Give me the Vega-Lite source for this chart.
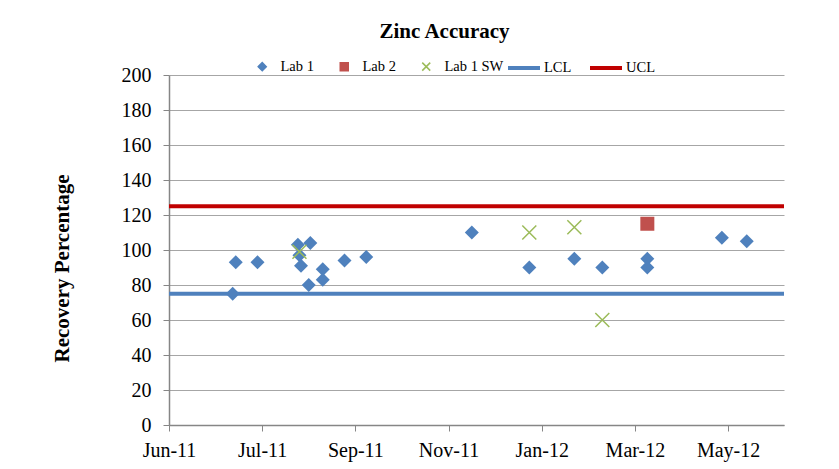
{
  "$schema": "https://vega.github.io/schema/vega-lite/v6.json",
  "width": 615,
  "height": 350,
  "autosize": {"type": "none"},
  "padding": {"left": 169, "top": 75, "right": 55, "bottom": 44},
  "background": "white",
  "title": {
    "text": "Zinc Accuracy",
    "font": "Liberation Serif",
    "fontSize": 21,
    "fontWeight": "bold",
    "color": "black",
    "anchor": "middle",
    "frame": "group",
    "dx": -32,
    "offset": 8
  },
  "data": {
    "values": [
      {"date": "2011-06-01", "value": 75, "series": "LCL"},
      {"date": "2012-07-01", "value": 75, "series": "LCL"},
      {"date": "2011-06-01", "value": 125, "series": "UCL"},
      {"date": "2012-07-01", "value": 125, "series": "UCL"},
      {"date": "2011-07-12", "value": 75, "series": "Lab 1"},
      {"date": "2011-07-14", "value": 93, "series": "Lab 1"},
      {"date": "2011-07-28", "value": 93, "series": "Lab 1"},
      {"date": "2011-08-23", "value": 103, "series": "Lab 1"},
      {"date": "2011-08-24", "value": 97, "series": "Lab 1"},
      {"date": "2011-08-25", "value": 91, "series": "Lab 1"},
      {"date": "2011-08-30", "value": 80, "series": "Lab 1"},
      {"date": "2011-08-31", "value": 104, "series": "Lab 1"},
      {"date": "2011-09-08", "value": 89, "series": "Lab 1"},
      {"date": "2011-09-08", "value": 83, "series": "Lab 1"},
      {"date": "2011-09-22", "value": 94, "series": "Lab 1"},
      {"date": "2011-10-06", "value": 96, "series": "Lab 1"},
      {"date": "2011-12-13", "value": 110, "series": "Lab 1"},
      {"date": "2012-01-19", "value": 90, "series": "Lab 1"},
      {"date": "2012-02-17", "value": 95, "series": "Lab 1"},
      {"date": "2012-03-06", "value": 90, "series": "Lab 1"},
      {"date": "2012-04-04", "value": 95, "series": "Lab 1"},
      {"date": "2012-04-04", "value": 90, "series": "Lab 1"},
      {"date": "2012-05-22", "value": 107, "series": "Lab 1"},
      {"date": "2012-06-07", "value": 105, "series": "Lab 1"},
      {"date": "2012-04-04", "value": 115, "series": "Lab 2"},
      {"date": "2011-08-24", "value": 99, "series": "Lab 1 SW"},
      {"date": "2012-01-19", "value": 110, "series": "Lab 1 SW"},
      {"date": "2012-02-17", "value": 113, "series": "Lab 1 SW"},
      {"date": "2012-03-06", "value": 60, "series": "Lab 1 SW"}
    ]
  },
  "encoding": {
    "x": {
      "field": "date",
      "type": "temporal",
      "title": null,
      "scale": {
        "type": "utc",
        "domain": [
          {"year": 2011, "month": 6, "date": 1, "utc": true},
          {"year": 2012, "month": 7, "date": 1, "utc": true}
        ],
        "nice": false
      },
      "axis": {
        "values": [
          {"year": 2011, "month": 6, "date": 1, "utc": true},
          {"year": 2011, "month": 7, "date": 31, "utc": true},
          {"year": 2011, "month": 9, "date": 29, "utc": true},
          {"year": 2011, "month": 11, "date": 28, "utc": true},
          {"year": 2012, "month": 1, "date": 27, "utc": true},
          {"year": 2012, "month": 3, "date": 27, "utc": true},
          {"year": 2012, "month": 5, "date": 26, "utc": true}
        ],
        "format": "%b-%y",
        "grid": false,
        "labelFont": "Liberation Serif",
        "labelFontSize": 20,
        "labelColor": "black",
        "labelPadding": 9,
        "labelFlush": false,
        "labelOverlap": false,
        "tickSize": 6,
        "tickColor": "#868686",
        "domainColor": "#868686",
        "domainWidth": 1.5
      }
    },
    "y": {
      "field": "value",
      "type": "quantitative",
      "scale": {"domain": [0, 200], "nice": false},
      "axis": {
        "values": [0, 20, 40, 60, 80, 100, 120, 140, 160, 180, 200],
        "title": "Recovery Percentage",
        "titleFont": "Liberation Serif",
        "titleFontSize": 21,
        "titleFontWeight": "bold",
        "titleColor": "black",
        "titleX": -107,
        "titleY": 193,
        "titleAngle": -90,
        "titleAlign": "center",
        "titleBaseline": "middle",
        "labelFont": "Liberation Serif",
        "labelFontSize": 20,
        "labelColor": "black",
        "labelPadding": 12,
        "tickSize": 6,
        "tickColor": "#868686",
        "domainColor": "#868686",
        "domainWidth": 1.5,
        "grid": true,
        "gridColor": "#A6A6A6",
        "gridWidth": 1
      }
    }
  },
  "layer": [
    {
      "transform": [{"filter": {"field": "series", "oneOf": ["LCL", "UCL"]}}],
      "mark": {"type": "line", "strokeWidth": 4},
      "encoding": {
        "stroke": {
          "field": "series",
          "type": "nominal",
          "scale": {"domain": ["LCL", "UCL"], "range": ["#4F81BD", "#C00000"]},
          "legend": {
            "title": null,
            "orient": "none",
            "direction": "horizontal",
            "legendX": 337,
            "legendY": -25,
            "symbolType": "stroke",
            "symbolSize": 1024,
            "symbolStrokeWidth": 4,
            "labelOffset": 2,
            "columnPadding": 10,
            "labelFont": "Liberation Serif",
            "labelFontSize": 14.5,
            "labelColor": "black"
          }
        }
      }
    },
    {
      "transform": [{"filter": {"field": "series", "oneOf": ["Lab 1", "Lab 2"]}}],
      "mark": {"type": "point", "filled": true, "opacity": 1, "size": 196},
      "encoding": {
        "color": {
          "field": "series",
          "type": "nominal",
          "scale": {"domain": ["Lab 1", "Lab 2", "Lab 1 SW"], "range": ["#4F81BD", "#C0504D", "#9BBB59"]},
          "legend": {
            "title": null,
            "orient": "none",
            "direction": "horizontal",
            "legendX": 86,
            "legendY": -16,
            "symbolSize": 64,
            "labelOffset": 11,
            "columnPadding": 23,
            "labelFont": "Liberation Serif",
            "labelFontSize": 14.5,
            "labelColor": "black",
            "encode": {
              "symbols": {
                "update": {
                  "fill": {"signal": "datum.value === 'Lab 1 SW' ? 'transparent' : scale('color', datum.value)"},
                  "stroke": {"signal": "scale('color', datum.value)"},
                  "strokeWidth": {"signal": "datum.value === 'Lab 1 SW' ? 1.2 : 0"},
                  "opacity": {"value": 1}
                }
              }
            }
          }
        },
        "shape": {
          "field": "series",
          "type": "nominal",
          "scale": {"domain": ["Lab 1", "Lab 2", "Lab 1 SW"], "range": ["diamond", "square", "M-1,-1L1,1M-1,1L1,-1"]},
          "legend": {
            "title": null,
            "orient": "none",
            "direction": "horizontal",
            "legendX": 86,
            "legendY": -16,
            "symbolSize": 64,
            "labelOffset": 11,
            "columnPadding": 23,
            "labelFont": "Liberation Serif",
            "labelFontSize": 14.5,
            "labelColor": "black",
            "encode": {
              "symbols": {
                "update": {
                  "fill": {"signal": "datum.value === 'Lab 1 SW' ? 'transparent' : scale('color', datum.value)"},
                  "stroke": {"signal": "scale('color', datum.value)"},
                  "strokeWidth": {"signal": "datum.value === 'Lab 1 SW' ? 1.2 : 0"},
                  "opacity": {"value": 1}
                }
              }
            }
          }
        }
      }
    },
    {
      "transform": [{"filter": {"field": "series", "equal": "Lab 1 SW"}}],
      "mark": {"type": "point", "filled": false, "opacity": 1, "size": 196, "strokeWidth": 1.5},
      "encoding": {
        "color": {"field": "series", "type": "nominal"},
        "shape": {"field": "series", "type": "nominal"}
      }
    }
  ],
  "config": {
    "view": {"stroke": null}
  }
}
